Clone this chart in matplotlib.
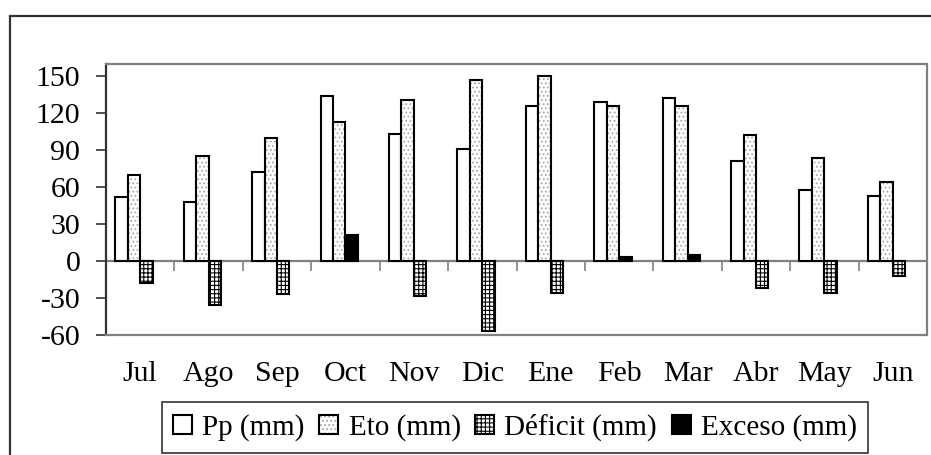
import numpy as np
import matplotlib.pyplot as plt
from matplotlib.patches import Patch, Rectangle

plt.rcParams['font.family'] = ['Liberation Serif', 'DejaVu Serif']
plt.rcParams['hatch.linewidth'] = 0.8

# Balance hídrico mensual
meses = ['Jul', 'Ago', 'Sep', 'Oct', 'Nov', 'Dic', 'Ene', 'Feb', 'Mar', 'Abr', 'May', 'Jun']
pp = [52, 48, 72, 134, 103, 91, 126, 129, 132, 81, 58, 53]
eto = [70, 85, 100, 113, 131, 147, 150, 126, 126, 102, 84, 64]
deficit = [-18, -36, -27, 0, -28, -57, -26, 0, 0, -22, -26, -12]
exceso = [0, 0, 0, 21, 0, 0, 0, 3, 5, 0, 0, 0]
etiquetas = ['Pp (mm)', 'Eto (mm)', 'Déficit (mm)', 'Exceso (mm)']

ymin, ymax = -60, 160
yticks = list(range(-60, 151, 30))

fs = 21.5
gris = '#808080'

fig = plt.figure(figsize=(9.31, 4.55), dpi=100)
ax = fig.add_axes([106 / 931, 1 - 335 / 455, 821 / 931, 271 / 455])

x = np.arange(len(meses))
w = 1 / 5.5


def sin_cero(v):
    a = np.array(v, dtype=float)
    a[a == 0] = np.nan
    return a


# Pp: blanco
ax.bar(x - 1.5 * w, pp, w, facecolor='white', edgecolor='black', linewidth=1.5, zorder=3)
# Eto: punteado gris
ax.bar(x - 0.5 * w, eto, w, facecolor='white', edgecolor='#a8a8a8', hatch='....', linewidth=0, zorder=3)
ax.bar(x - 0.5 * w, eto, w, fill=False, edgecolor='black', linewidth=1.5, zorder=4)
# Déficit: cuadrícula
ax.bar(x + 0.5 * w, sin_cero(deficit), w, facecolor='white', edgecolor='black', hatch='++++', linewidth=1.5, zorder=3)
# Exceso: negro
ax.bar(x + 0.5 * w, sin_cero(exceso), w, facecolor='black', edgecolor='black', linewidth=1.5, zorder=3)

ax.set_xlim(-0.5, len(meses) - 0.5)
ax.set_ylim(ymin, ymax)
ax.set_yticks(yticks)
ax.set_yticklabels([str(v) for v in yticks], fontsize=fs)
ax.set_xticks(x)
ax.set_xticklabels(meses, fontsize=fs)
ax.tick_params(axis='x', length=0, pad=19)
ax.tick_params(axis='y', direction='out', length=7.5, width=1.2, color='#333333', pad=11)

for s in ['top', 'right', 'bottom']:
    ax.spines[s].set_color(gris)
    ax.spines[s].set_linewidth(1.6)
ax.spines['left'].set_color('#333333')
ax.spines['left'].set_linewidth(1.6)

# Eje de categorías en y = 0, marcas hacia abajo
eje0 = ax.secondary_xaxis((0 - ymin) / (ymax - ymin))
eje0.set_xticks(np.arange(len(meses) + 1) - 0.5)
eje0.tick_params(axis='x', bottom=True, top=False, labelbottom=False, labeltop=False,
                 direction='out', length=7.5, width=1.2, color=gris)
for s in ['top', 'bottom']:
    eje0.spines[s].set_color(gris)
    eje0.spines[s].set_linewidth(1.6)
eje0.set_zorder(2)

# Leyenda
h_pp = Patch(facecolor='white', edgecolor='black', linewidth=1.5)
h_eto = (Patch(facecolor='white', edgecolor='#a8a8a8', hatch='....', linewidth=0),
         Patch(fill=False, edgecolor='black', linewidth=1.5))
h_def = Patch(facecolor='white', edgecolor='black', hatch='++++', linewidth=1.5)
h_exc = Patch(facecolor='black', edgecolor='black', linewidth=1.5)
leg = fig.legend([h_pp, h_eto, h_def, h_exc], etiquetas, loc='center',
                 bbox_to_anchor=(515 / 931, 1 - 427.5 / 455), ncol=4, fontsize=21,
                 handlelength=0.65, handleheight=0.65, handletextpad=0.35,
                 columnspacing=0.5, borderpad=0.4, fancybox=False, frameon=True)
leg.get_frame().set_edgecolor('black')
leg.get_frame().set_linewidth(1.2)

# Marco exterior
fig.add_artist(Rectangle((10 / 931, -0.05), 1.2, 1 - 16 / 455 + 0.05, transform=fig.transFigure,
                         fill=False, edgecolor='#333333', linewidth=1.6, clip_on=False))

fig.savefig('out.png', dpi=100)
